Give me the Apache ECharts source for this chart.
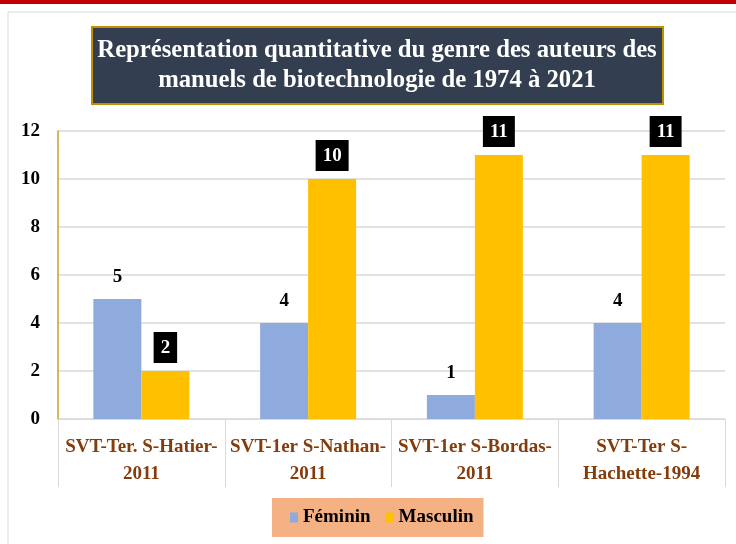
<!DOCTYPE html>
<html>
<head>
<meta charset="utf-8">
<title>Genre des auteurs</title>
<script src="https://cdn.jsdelivr.net/npm/echarts@6/dist/echarts.min.js"></script>
<style>
  html, body { margin: 0; padding: 0; background: #fff; }
  #chart { width: 736px; height: 544px; }
</style>
</head>
<body>
<div id="chart"></div>
<script>
// données
var manuels = ['SVT-Ter. S-Hatier-\n2011', 'SVT-1er S-Nathan-\n2011', 'SVT-1er S-Bordas-\n2011', 'SVT-Ter S-\nHachette-1994'];
var feminin = [5, 4, 1, 4];
var masculin = [2, 10, 11, 11];
var yTicks = [0, 2, 4, 6, 8, 10, 12];
var titre = 'Représentation quantitative du genre des auteurs des\nmanuels de biotechnologie de 1974 à 2021';

var serif = '"Liberation Serif", "Times New Roman", serif';
var chart = echarts.init(document.getElementById('chart'));

chart.setOption({
    backgroundColor: '#fff',
    textStyle: { fontFamily: serif },
    graphic: [
        // bande rouge en haut + cadre gris
        { type: 'rect', shape: { x: 0, y: 0, width: 736, height: 4 }, style: { fill: '#c00000' }, silent: true },
        { type: 'rect', shape: { x: 8, y: 12, width: 740, height: 560 }, style: { fill: 'none', stroke: '#d9d9d9', lineWidth: 1 }, silent: true },
        // titre dans son cadre
        { type: 'rect', shape: { x: 92, y: 27, width: 571, height: 77 }, style: { fill: '#333f50', stroke: '#bf9000', lineWidth: 2 }, silent: true },
        {
            type: 'text',
            x: 377,
            y: 65,
            scaleX: 0.95,
            silent: true,
            style: {
                text: titre,
                fill: '#fff',
                fontFamily: serif,
                fontWeight: 'bold',
                fontSize: 26,
                lineHeight: 30,
                textAlign: 'center',
                textVerticalAlign: 'middle'
            }
        }
    ],
    legend: {
        data: ['Féminin', 'Masculin'],
        left: 272,
        top: 498,
        backgroundColor: '#f4b183',
        padding: [10, 10, 10, 18],
        icon: 'rect',
        itemWidth: 8,
        itemHeight: 10,
        itemGap: 15,
        textStyle: { color: '#000', fontFamily: serif, fontWeight: 'bold', fontSize: 19 }
    },
    grid: { left: 58, right: 11, top: 131, bottom: 125 },
    xAxis: {
        type: 'category',
        data: manuels,
        axisLine: { lineStyle: { color: '#d9d9d9' } },
        axisTick: { show: true, length: 68, lineStyle: { color: '#d9d9d9' } },
        axisLabel: {
            color: '#843c0c',
            fontFamily: serif,
            fontWeight: 'bold',
            fontSize: 19,
            lineHeight: 27,
            margin: 15,
            interval: 0
        }
    },
    yAxis: {
        type: 'value',
        min: yTicks[0],
        max: yTicks[yTicks.length - 1],
        interval: 2,
        axisLine: { show: true, lineStyle: { color: '#c9a227', width: 1.5 } },
        axisTick: { show: false },
        splitLine: { lineStyle: { color: '#d9d9d9', width: 1.5 } },
        axisLabel: { color: '#000', fontFamily: serif, fontWeight: 'bold', fontSize: 19, margin: 18 }
    },
    series: [
        {
            name: 'Féminin',
            type: 'bar',
            data: feminin,
            barWidth: 48,
            barGap: '0%',
            itemStyle: { color: '#8faadc' },
            label: {
                show: true,
                position: 'top',
                distance: 12,
                color: '#000',
                fontFamily: serif,
                fontWeight: 'bold',
                fontSize: 19
            }
        },
        {
            name: 'Masculin',
            type: 'bar',
            data: masculin,
            barWidth: 48,
            itemStyle: { color: '#ffc000' },
            label: {
                show: true,
                position: 'top',
                distance: 8,
                color: '#fff',
                backgroundColor: '#000',
                padding: [7, 7, 5, 7],
                fontFamily: serif,
                fontWeight: 'bold',
                fontSize: 19
            }
        }
    ]
});
</script>
</body>
</html>
